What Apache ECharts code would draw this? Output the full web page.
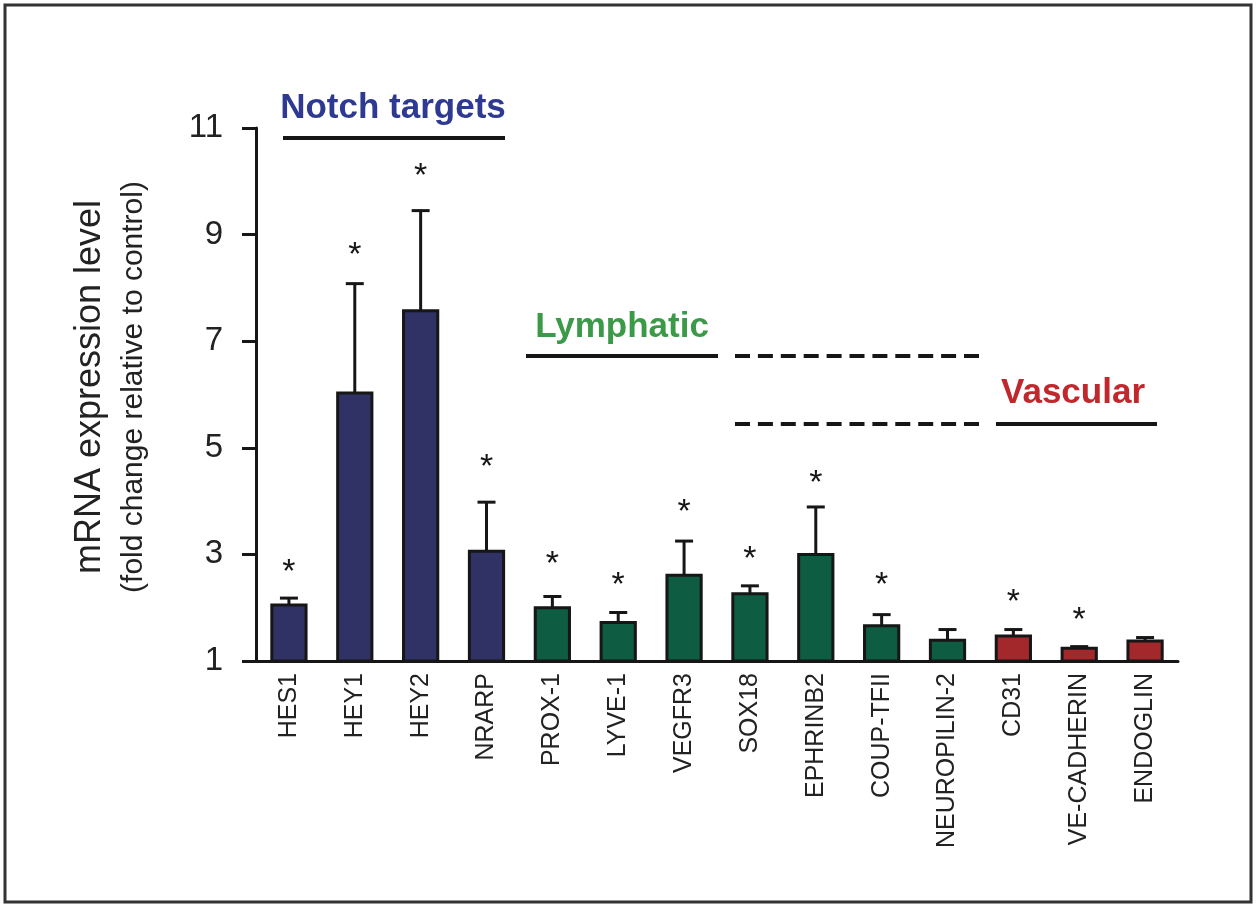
<!DOCTYPE html>
<html>
<head>
<meta charset="utf-8">
<script src="https://cdn.jsdelivr.net/npm/echarts@6/dist/echarts.min.js"></script>
<style>
html,body{margin:0;padding:0;background:#fff;}
#chart{width:1260px;height:906px;}
</style>
</head>
<body>
<div id="chart"></div>
<script>
// ---- data ----
const categories = ['HES1','HEY1','HEY2','NRARP','PROX-1','LYVE-1','VEGFR3','SOX18','EPHRINB2','COUP-TFII','NEUROPILIN-2','CD31','VE-CADHERIN','ENDOGLIN'];
const meanValues = [2.05, 6.03, 7.57, 3.06, 2.00, 1.72, 2.61, 2.26, 3.00, 1.66, 1.39, 1.47, 1.24, 1.375];
const errorValues = [0.13, 2.05, 1.88, 0.92, 0.21, 0.19, 0.64, 0.15, 0.89, 0.21, 0.20, 0.12, 0.03, 0.065];
const starPositions = [2.80, 8.75, 10.23, 4.77, 2.95, 2.56, 3.93, 3.05, 4.47, 2.56, null, 2.24, 1.90, null];
const groups = ['notch','notch','notch','notch','lymph','lymph','lymph','lymph','lymph','lymph','lymph','vasc','vasc','vasc'];
const yTicks = [1, 3, 5, 7, 9, 11];
const yTitle = 'mRNA expression level';
const ySubTitle = '(fold change relative to control)';

const groupColor = {notch:'#303266', lymph:'#0e5c42', vasc:'#a3282c'};
const FONT = '"Liberation Sans", Arial, Helvetica, sans-serif';

const chart = echarts.init(document.getElementById('chart'), null, {renderer:'canvas'});

const seriesData = categories.map((c, i) => [i, meanValues[i], errorValues[i]]);

function renderItem(params, api) {
  const i = params.dataIndex;
  const v = meanValues[i];
  const e = errorValues[i];
  const base = api.coord([i, 1]);
  const top = api.coord([i, v]);
  const et = api.coord([i, v + e]);
  const band = api.size([1, 0])[0];
  const bw = band * 0.52;
  const cx = base[0];
  const children = [
    {type:'line', shape:{x1:cx, y1:top[1], x2:cx, y2:et[1]}, style:{stroke:'#161616', lineWidth:3}},
    {type:'line', shape:{x1:cx-9, y1:et[1], x2:cx+9, y2:et[1]}, style:{stroke:'#161616', lineWidth:3}},
    {type:'rect', shape:{x:cx-bw/2, y:top[1], width:bw, height:base[1]-top[1]},
      style:{fill:groupColor[groups[i]], stroke:'#161616', lineWidth:3}}
  ];
  if (starPositions[i] != null) {
    const sp = api.coord([i, starPositions[i]]);
    children.push({type:'text', x:sp[0], y:sp[1] + 8,
      style:{text:'*', font:'34px ' + FONT, fill:'#161616', align:'center', verticalAlign:'middle'}});
  }
  return {type:'group', children};
}

const option = {
  backgroundColor:'#ffffff',
  animation:false,
  grid:{left:256, right:82, top:128, bottom:245, containLabel:false},
  xAxis:{
    type:'category', data:categories, boundaryGap:true,
    axisLine:{lineStyle:{color:'#161616', width:3}},
    axisTick:{show:false},
    axisLabel:{rotate:90, margin:12, fontSize:25, color:'#222', fontFamily:FONT, interval:0}
  },
  yAxis:{
    type:'value', min:1, max:11, interval:1,
    axisLine:{show:true, lineStyle:{color:'#161616', width:3}},
    axisTick:{show:true, length:14, inside:false, lineStyle:{color:'#161616', width:3}, customValues:yTicks},
    axisLabel:{fontSize:33, color:'#222', fontFamily:FONT, margin:33, customValues:yTicks},
    splitLine:{show:false}
  },
  series:[{
    type:'custom', renderItem:renderItem, data:seriesData, clip:false,
    encode:{x:0, y:1}, z:5
  }],
  graphic:[
    {type:'rect', shape:{x:5, y:5, width:1246, height:897}, style:{fill:'none', stroke:'#333', lineWidth:3}, z:100},
    {type:'text', x:90, y:387, rotation:Math.PI/2,
      style:{text:yTitle, font:'36px ' + FONT, fill:'#222', align:'center', verticalAlign:'middle'}},
    {type:'text', x:134, y:387, rotation:Math.PI/2,
      style:{text:ySubTitle, font:'30px ' + FONT, fill:'#222', align:'center', verticalAlign:'middle'}},
    {type:'text', x:393, y:108,
      style:{text:'Notch targets', font:'bold 35px ' + FONT, fill:'#2e3a92', align:'center', verticalAlign:'middle'}},
    {type:'line', shape:{x1:283, y1:138, x2:505, y2:138}, style:{stroke:'#161616', lineWidth:4}},
    {type:'text', x:622, y:327,
      style:{text:'Lymphatic', font:'bold 35px ' + FONT, fill:'#3b9a47', align:'center', verticalAlign:'middle'}},
    {type:'line', shape:{x1:526, y1:356, x2:718, y2:356}, style:{stroke:'#161616', lineWidth:4}},
    {type:'line', shape:{x1:735, y1:356, x2:979, y2:356}, style:{stroke:'#161616', lineWidth:4, lineDash:[15,7.9]}},
    {type:'text', x:1073, y:393,
      style:{text:'Vascular', font:'bold 35px ' + FONT, fill:'#c0282d', align:'center', verticalAlign:'middle'}},
    {type:'line', shape:{x1:735, y1:424, x2:979, y2:424}, style:{stroke:'#161616', lineWidth:4, lineDash:[15,7.9]}},
    {type:'line', shape:{x1:996, y1:424, x2:1157, y2:424}, style:{stroke:'#161616', lineWidth:4}}
  ]
};
chart.setOption(option);
</script>
</body>
</html>
